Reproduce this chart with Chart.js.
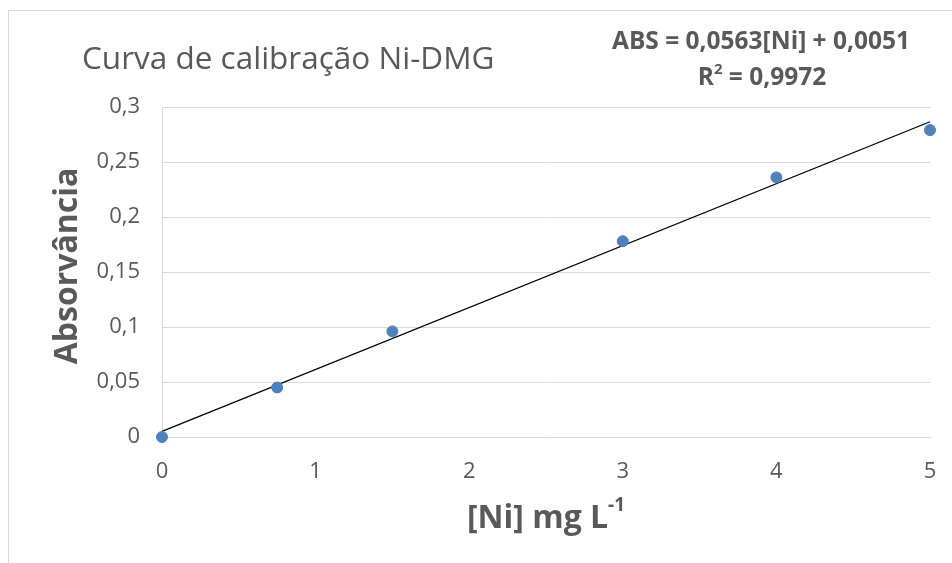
<!DOCTYPE html>
<html>
<head>
<meta charset="utf-8">
<script src="https://cdn.jsdelivr.net/npm/chart.js@4/dist/chart.umd.min.js"></script>
<style>
  html, body { margin: 0; padding: 0; background: #fff; overflow: hidden; }
  #frame { position: absolute; left: 8px; top: 10px; width: 960px; height: 570px; border: 1px solid #d9d9d9; box-sizing: border-box; }
  #wrap { position: absolute; left: 0; top: 0; width: 952px; height: 563px; }
</style>
</head>
<body>
<div id="frame"></div>
<div id="wrap"><canvas id="chart"></canvas></div>
<script>
const concentration = [0, 0.75, 1.5, 3, 4, 5];
const absorbance = [0, 0.045, 0.096, 0.178, 0.236, 0.279];
const trendX = [0, 5];
const trendY = [0.0051, 0.2866];
const yTickLabels = ['0', '0,05', '0,1', '0,15', '0,2', '0,25', '0,3'];
const chartTitle = 'Curva de calibração Ni-DMG';
const yAxisTitle = 'Absorvância';
const equationLines = ['ABS = 0,0563[Ni] + 0,0051', 'R', '2', ' = 0,9972'];

const textColor = '#595959';
const gridColor = '#d9d9d9';
const fontFamily = '"Open Sans", "Liberation Sans", sans-serif';

const annotations = {
    id: 'annotations',
    afterDraw(chart) {
        const ctx = chart.ctx;
        ctx.save();
        ctx.fillStyle = textColor;
        ctx.textBaseline = 'middle';

        ctx.font = `31.5px ${fontFamily}`;
        ctx.textAlign = 'left';
        ctx.fillText(chartTitle, 82, 60);

        ctx.font = `bold 24.5px ${fontFamily}`;
        ctx.textAlign = 'center';
        ctx.fillText(equationLines[0], 761, 42);

        const rBase = equationLines[1];
        const rSup = equationLines[2];
        const rRest = equationLines[3];
        ctx.font = `bold 24.5px ${fontFamily}`;
        const w1 = ctx.measureText(rBase).width;
        const w3 = ctx.measureText(rRest).width;
        ctx.font = `bold 15px ${fontFamily}`;
        const w2 = ctx.measureText(rSup).width;
        let x = 762 - (w1 + w2 + w3) / 2;
        ctx.textAlign = 'left';
        ctx.font = `bold 24.5px ${fontFamily}`;
        ctx.fillText(rBase, x, 78);
        ctx.font = `bold 15px ${fontFamily}`;
        ctx.fillText(rSup, x + w1, 70);
        ctx.font = `bold 24.5px ${fontFamily}`;
        ctx.fillText(rRest, x + w1 + w2, 78);

        const base = '[Ni] mg L';
        const sup = '-1';
        ctx.font = `bold 32px ${fontFamily}`;
        const b1 = ctx.measureText(base).width;
        ctx.font = `bold 19px ${fontFamily}`;
        const b2 = ctx.measureText(sup).width;
        let bx = 546 - (b1 + b2) / 2;
        ctx.font = `bold 32px ${fontFamily}`;
        ctx.fillText(base, bx, 519);
        ctx.font = `bold 19px ${fontFamily}`;
        ctx.fillText(sup, bx + b1, 506);

        ctx.translate(68, 266);
        ctx.rotate(-Math.PI / 2);
        ctx.textAlign = 'center';
        ctx.font = `bold 32px ${fontFamily}`;
        ctx.fillText(yAxisTitle, 0, 0);
        ctx.restore();
    }
};

new Chart(document.getElementById('chart'), {
    type: 'scatter',
    data: {
        datasets: [
            {
                label: 'Absorvância',
                data: concentration.map((c, i) => ({ x: c, y: absorbance[i] })),
                backgroundColor: '#4f81bd',
                borderColor: '#4f81bd',
                pointRadius: 5.5,
                clip: false,
                order: 1
            },
            {
                label: 'Linear',
                type: 'line',
                data: trendX.map((c, i) => ({ x: c, y: trendY[i] })),
                borderColor: '#000',
                borderWidth: 1.3,
                pointRadius: 0,
                fill: false,
                clip: false,
                order: 2
            }
        ]
    },
    options: {
        responsive: true,
        maintainAspectRatio: false,
        animation: false,
        layout: { padding: { left: 8, top: 107, right: 22, bottom: 0 } },
        plugins: { legend: { display: false }, tooltip: { enabled: false } },
        scales: {
            x: {
                type: 'linear',
                min: 0,
                max: 5,
                ticks: { stepSize: 1, color: textColor, padding: 22, font: { family: fontFamily, size: 22 } },
                grid: { display: false, drawTicks: false },
                border: { display: true, color: gridColor },
                afterFit: (axis) => {
                    axis.height = 126;
                    axis.paddingLeft = 0;
                    axis.paddingRight = 0;
                }
            },
            y: {
                min: 0,
                max: 0.3,
                ticks: {
                    stepSize: 0.05,
                    color: textColor,
                    padding: 22,
                    font: { family: fontFamily, size: 22 },
                    callback: (value, index) => yTickLabels[index]
                },
                grid: { color: gridColor, drawTicks: false },
                border: { display: true, color: gridColor },
                afterFit: (axis) => {
                    axis.width = 154;
                    axis.paddingTop = 0;
                    axis.paddingBottom = 0;
                }
            }
        }
    },
    plugins: [annotations]
});
</script>
</body>
</html>
